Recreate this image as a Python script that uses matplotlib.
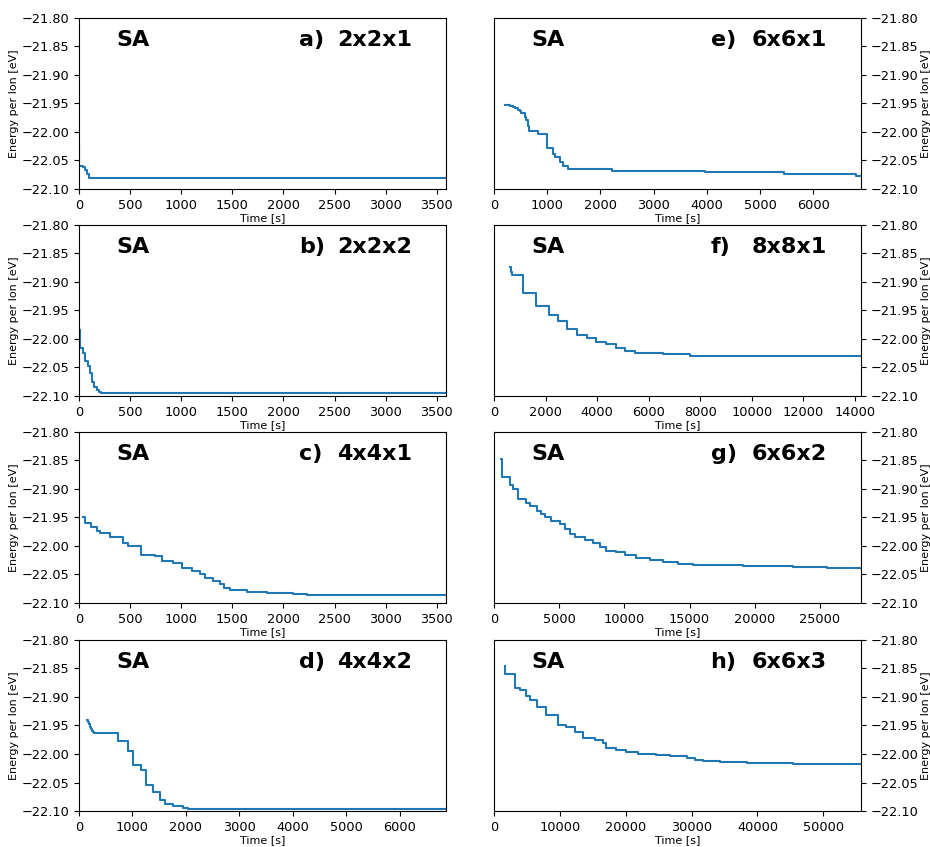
import matplotlib
matplotlib.use("Agg")
import matplotlib.pyplot as plt
from matplotlib.ticker import FuncFormatter

# ---- data (step traces, drawn with steps-post) ----
t_a = [0, 5, 40, 60, 80, 100, 3590]
e_a = [-22.028, -22.060, -22.062, -22.066, -22.074, -22.080, -22.080]

t_b = [10, 15, 40, 60, 90, 110, 130, 150, 175, 200, 220, 3590]
e_b = [-21.985, -22.015, -22.025, -22.038, -22.048, -22.060, -22.075,
       -22.085, -22.090, -22.093, -22.095, -22.095]

t_c = [42, 59, 114, 173, 205, 303, 434, 483, 603, 743, 809, 923, 1004, 1102,
       1184, 1232, 1314, 1379, 1418, 1477, 1640, 1836, 2097, 2227, 3590]
e_c = [-21.949, -21.959, -21.966, -21.974, -21.977, -21.985, -21.994, -22.000,
       -22.015, -22.018, -22.026, -22.029, -22.039, -22.044, -22.049, -22.056,
       -22.062, -22.066, -22.074, -22.078, -22.081, -22.082, -22.085, -22.086,
       -22.086]

t_d = [143, 160, 180, 200, 220, 240, 260, 280, 733, 919, 1012, 1168, 1261,
       1385, 1509, 1602, 1758, 1944, 2037, 6860]
e_d = [-21.940, -21.944, -21.948, -21.952, -21.956, -21.959, -21.961, -21.963,
       -21.977, -21.995, -22.019, -22.028, -22.054, -22.066, -22.081, -22.087,
       -22.091, -22.094, -22.096, -22.096]

t_e = [201, 250, 300, 358, 400, 453, 490, 516, 560, 585, 610, 635, 660, 830,
       987, 1100, 1145, 1240, 1300, 1396, 2214, 2370, 3975, 5453, 6805, 6900]
e_e = [-21.952, -21.953, -21.955, -21.956, -21.958, -21.961, -21.964, -21.966,
       -21.967, -21.973, -21.979, -21.989, -21.998, -22.003, -22.029, -22.038,
       -22.044, -22.053, -22.059, -22.065, -22.068, -22.069, -22.071, -22.074,
       -22.077, -22.077]

t_f = [608, 673, 700, 1126, 1643, 2135, 2484, 2834, 3235, 3610, 3972, 4360,
       4722, 5098, 5460, 5913, 6560, 7595, 12900, 14230]
e_f = [-21.874, -21.883, -21.888, -21.919, -21.942, -21.958, -21.968, -21.982,
       -21.993, -21.999, -22.005, -22.009, -22.016, -22.021, -22.024, -22.025,
       -22.027, -22.029, -22.030, -22.030]

t_g = [563, 614, 1203, 1458, 1842, 2482, 2738, 3300, 3634, 3889, 4400, 5040,
       5425, 5808, 6192, 6960, 7600, 8111, 8623, 9391, 10030, 10926, 11950,
       12973, 14125, 15276, 19114, 22953, 25512, 28150]
e_g = [-21.848, -21.879, -21.893, -21.900, -21.918, -21.924, -21.929, -21.938,
       -21.944, -21.950, -21.956, -21.962, -21.971, -21.979, -21.984, -21.989,
       -21.995, -22.001, -22.008, -22.011, -22.015, -22.021, -22.025, -22.028,
       -22.031, -22.033, -22.035, -22.037, -22.039, -22.039]

t_h = [1621, 1700, 3141, 3900, 4914, 5420, 6535, 7953, 9726, 10892, 12259,
       13526, 15299, 16565, 17072, 18490, 20111, 21884, 24670, 26697, 29230,
       30497, 31763, 34296, 38349, 45441, 55720]
e_h = [-21.846, -21.859, -21.884, -21.887, -21.899, -21.905, -21.918, -21.931,
       -21.949, -21.953, -21.961, -21.972, -21.975, -21.981, -21.990, -21.993,
       -21.997, -22.000, -22.001, -22.004, -22.007, -22.010, -22.012, -22.014,
       -22.015, -22.017, -22.017]

panels = [
    ("a)", "2x2x1", t_a, e_a, 3590),
    ("b)", "2x2x2", t_b, e_b, 3590),
    ("c)", "4x4x1", t_c, e_c, 3590),
    ("d)", "4x4x2", t_d, e_d, 6860),
    ("e)", "6x6x1", t_e, e_e, 6900),
    ("f)", "8x8x1", t_f, e_f, 14230),
    ("g)", "6x6x2", t_g, e_g, 28150),
    ("h)", "6x6x3", t_h, e_h, 55720),
]

fig = plt.figure(figsize=(9.3, 8.47), dpi=100)

lefts = [0.0849, 0.5312]
bottoms = [0.7769, 0.5325, 0.2881, 0.0425]
width, height = 0.3946, 0.2019

yfmt = FuncFormatter(lambda v, p: f"{v:.2f}".replace("-", "\u2212"))

for i, (letter, size, t, e, xmax) in enumerate(panels):
    col, row = divmod(i, 4)
    ax = fig.add_axes([lefts[col], bottoms[row], width, height])
    ax.plot(t, e, drawstyle="steps-post", color="#1f77b4", lw=1.5)
    ax.set_xlim(0, xmax)
    ax.set_ylim(-22.10, -21.80)
    ax.set_yticks([-21.80, -21.85, -21.90, -21.95, -22.00, -22.05, -22.10])
    ax.yaxis.set_major_formatter(yfmt)
    ax.tick_params(labelsize=9.3)
    ax.set_xlabel("Time [s]", fontsize=8, labelpad=1)
    ax.set_ylabel("Energy per Ion [eV]", fontsize=8, labelpad=1.5)
    if col == 1:
        ax.yaxis.tick_right()
        ax.yaxis.set_label_position("right")

    ax.text(0.103, 0.87, "SA", transform=ax.transAxes, fontsize=16,
            fontweight="bold", va="center", ha="left")
    ax.text(0.60 if col == 0 else 0.59, 0.87, letter, transform=ax.transAxes,
            fontsize=16, fontweight="bold", va="center", ha="left")
    ax.text(0.703, 0.87, size, transform=ax.transAxes, fontsize=16,
            fontweight="bold", va="center", ha="left")

fig.savefig("out.png", dpi=100)
